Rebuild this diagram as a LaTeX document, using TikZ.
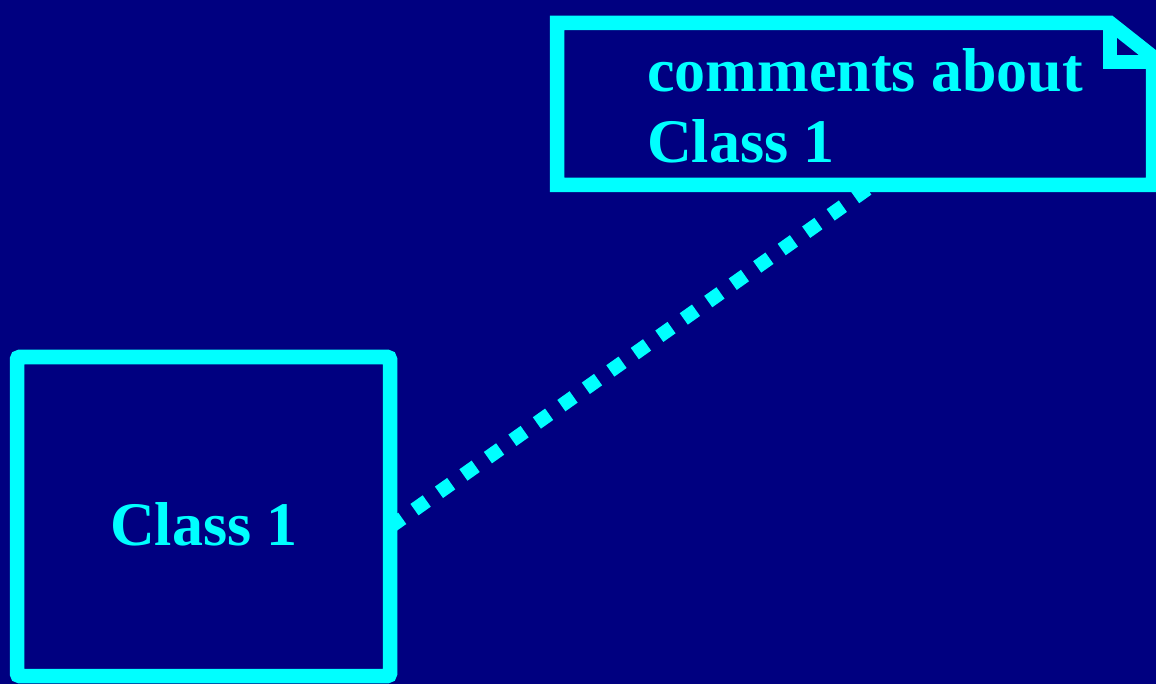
\documentclass[tikz,border=0pt]{standalone}
\usepackage{fontspec}
\setmainfont{Liberation Serif}
\definecolor{bgnavy}{RGB}{0,0,128}
\definecolor{umlcyan}{RGB}{0,255,255}
\begin{document}
\begin{tikzpicture}[x=1pt,y=-1pt,
  thickline/.style={draw=umlcyan,line width=14.5pt},
  lbl/.style={text=umlcyan,font=\fontsize{62}{71}\selectfont\bfseries,inner sep=0pt},
  dotline/.style={draw=umlcyan,line width=14pt,dash pattern=on 15pt off 15pt}]
\fill[bgnavy] (0,0) rectangle (1156,684);
\useasboundingbox (0,0) rectangle (1156,684);
% class box
\node (cls) [thickline,rounded corners=2.5pt,minimum width=373pt,minimum height=319pt,inner sep=0pt] at (203.5,516.5) {};
\node (clslbl) [lbl,anchor=base] at (204,545) {Class 1};
% note
\coordinate (ntl) at (557,23);
\coordinate (nfold) at (1110,23);
\coordinate (nfr) at (1153,57);
\coordinate (nbr) at (1153,185);
\coordinate (nbl) at (557,185);
\coordinate (nfc) at (1110,62);
\coordinate (nfe) at (1153,62);
\draw[thickline,line join=miter] (nbl) -- (ntl) -- (nfold) -- (nfr) -- (nbr) -- cycle;
\draw[thickline,line join=miter] (nfold) -- (nfc) -- (nfe);
\node (n1) [lbl,anchor=base west] at (647,92) {comments about};
\node (n2) [lbl,anchor=base west] at (647,163) {Class 1};
% connector
\coordinate (cstart) at (390,527);
\coordinate (nend) at (870,187);
\draw[dotline] (cstart) -- (nend);
\end{tikzpicture}
\end{document}
